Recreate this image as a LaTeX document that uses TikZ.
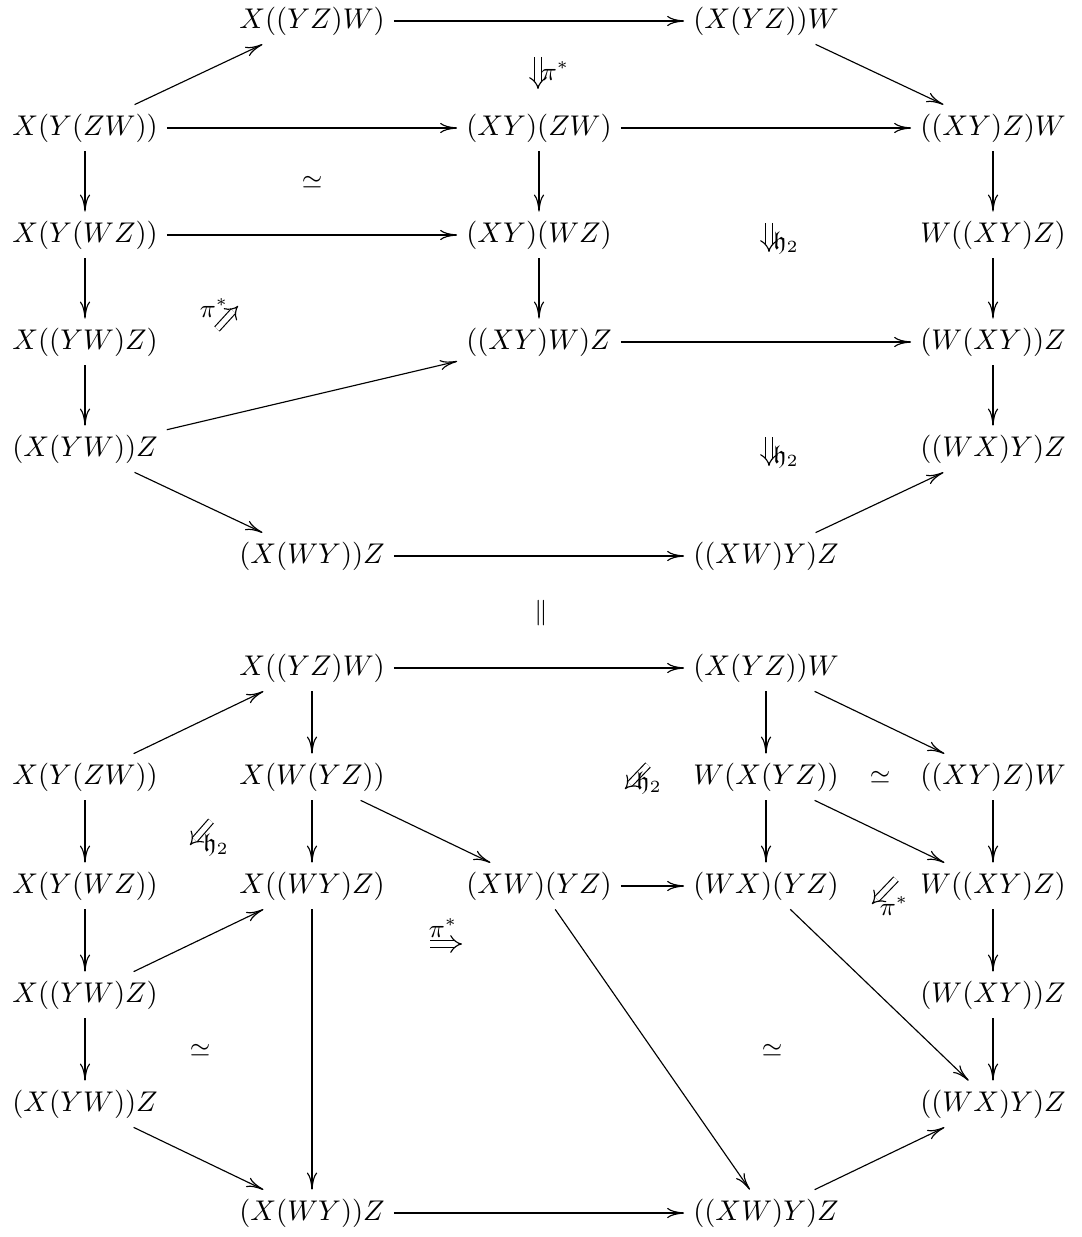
\documentclass[tikz,border=0pt]{standalone}
\usepackage{amssymb}
\usetikzlibrary{arrows.meta}
\tikzset{
  ob/.style={inner sep=3pt},
  ar/.style={line width=0.4pt,-{To[length=6pt,width=3.6pt]}},
  cell/.style={double, double distance=1.8pt, line width=0.4pt, -{Implies}},
  lbl/.style={inner sep=0pt, font=\small},
}
\begin{document}
\begin{tikzpicture}[x=0.351pt,y=-0.351pt]
\useasboundingbox (0,0) rectangle (1081,1237);
% ---------- top diagram ----------
\node[ob] (a1) at (312,21) {$X((YZ)W)$};
\node[ob] (a2) at (766,21) {$(X(YZ))W$};
\node[ob] (b0) at (85,128) {$X(Y(ZW))$};
\node[ob] (b2) at (539,128) {$(XY)(ZW)$};
\node[ob] (b4) at (993,128) {$((XY)Z)W$};
\node[ob] (c0) at (85,235) {$X(Y(WZ))$};
\node[ob] (c2) at (539,235) {$(XY)(WZ)$};
\node[ob] (c4) at (993,235) {$W((XY)Z)$};
\node[ob] (d0) at (85,342) {$X((YW)Z)$};
\node[ob] (d2) at (539,342) {$((XY)W)Z$};
\node[ob] (d4) at (993,342) {$(W(XY))Z$};
\node[ob] (e0) at (85,449) {$(X(YW))Z$};
\node[ob] (e4) at (993,449) {$((WX)Y)Z$};
\node[ob] (f1) at (312,556) {$(X(WY))Z$};
\node[ob] (f3) at (766,556) {$((XW)Y)Z$};

\draw[ar] (b0) -- (a1);
\draw[ar] (a1) -- (a2);
\draw[ar] (a2) -- (b4);
\draw[ar] (b0) -- (b2);
\draw[ar] (b2) -- (b4);
\draw[ar] (b0) -- (c0);
\draw[ar] (b2) -- (c2);
\draw[ar] (b4) -- (c4);
\draw[ar] (c0) -- (c2);
\draw[ar] (c0) -- (d0);
\draw[ar] (c2) -- (d2);
\draw[ar] (c4) -- (d4);
\draw[ar] (d2) -- (d4);
\draw[ar] (d0) -- (e0);
\draw[ar] (e0) -- (d2);
\draw[ar] (d4) -- (e4);
\draw[ar] (e0) -- (f1);
\draw[ar] (f1) -- (f3);
\draw[ar] (f3) -- (e4);

% 2-cells top
\coordinate (t1s) at (538,57);
\coordinate (t1e) at (538,89);
\draw[cell] (t1s) -- (t1e);
\node[lbl] (t1l) at (555,71) {$\pi^*$};
\node[lbl] (t2) at (312,182) {$\simeq$};
\coordinate (t3s) at (769,223);
\coordinate (t3e) at (769,252);
\draw[cell] (t3s) -- (t3e);
\node[lbl] (t3l) at (786,243) {$\mathfrak{h}_2$};
\coordinate (t4s) at (217,329);
\coordinate (t4e) at (238,306);
\draw[cell] (t4s) -- (t4e);
\node[lbl] (t4l) at (214,308) {$\pi^*$};
\coordinate (t5s) at (769,437);
\coordinate (t5e) at (769,466);
\draw[cell] (t5s) -- (t5e);
\node[lbl] (t5l) at (786,457) {$\mathfrak{h}_2$};

\node[lbl] (eq) at (541,613) {$\Vert$};

% ---------- bottom diagram ----------
\node[ob] (g1) at (312,668) {$X((YZ)W)$};
\node[ob] (g3) at (766,668) {$(X(YZ))W$};
\node[ob] (h0) at (85,777) {$X(Y(ZW))$};
\node[ob] (h1) at (312,777) {$X(W(YZ))$};
\node[ob] (h3) at (766,777) {$W(X(YZ))$};
\node[ob] (h4) at (993,777) {$((XY)Z)W$};
\node[ob] (i0) at (85,886) {$X(Y(WZ))$};
\node[ob] (i1) at (312,886) {$X((WY)Z)$};
\node[ob] (i2) at (539,886) {$(XW)(YZ)$};
\node[ob] (i3) at (766,886) {$(WX)(YZ)$};
\node[ob] (i4) at (993,886) {$W((XY)Z)$};
\node[ob] (j0) at (85,995) {$X((YW)Z)$};
\node[ob] (j4) at (993,995) {$(W(XY))Z$};
\node[ob] (k0) at (85,1104) {$(X(YW))Z$};
\node[ob] (k4) at (993,1104) {$((WX)Y)Z$};
\node[ob] (l1) at (312,1213) {$(X(WY))Z$};
\node[ob] (l3) at (766,1213) {$((XW)Y)Z$};

\draw[ar] (h0) -- (g1);
\draw[ar] (g1) -- (g3);
\draw[ar] (g1) -- (h1);
\draw[ar] (g3) -- (h3);
\draw[ar] (g3) -- (h4);
\draw[ar] (h0) -- (i0);
\draw[ar] (h1) -- (i1);
\draw[ar] (h1) -- (i2);
\draw[ar] (h3) -- (i3);
\draw[ar] (h3) -- (i4);
\draw[ar] (h4) -- (i4);
\draw[ar] (i0) -- (j0);
\draw[ar] (j0) -- (i1);
\draw[ar] (i1) -- (l1);
\draw[ar] (i2) -- (i3);
\draw[ar] (i2) -- (l3);
\draw[ar] (i3) -- (k4);
\draw[ar] (i4) -- (j4);
\draw[ar] (j4) -- (k4);
\draw[ar] (j0) -- (k0);
\draw[ar] (k0) -- (l1);
\draw[ar] (l1) -- (l3);
\draw[ar] (l3) -- (k4);

% 2-cells bottom
\coordinate (u1s) at (648,765);
\coordinate (u1e) at (625,789);
\draw[cell] (u1s) -- (u1e);
\node[lbl] (u1l) at (649,783) {$\mathfrak{h}_2$};
\coordinate (u2s) at (211,821);
\coordinate (u2e) at (190,845);
\draw[cell] (u2s) -- (u2e);
\node[lbl] (u2l) at (216,845) {$\mathfrak{h}_2$};
\coordinate (u3s) at (430,944);
\coordinate (u3e) at (462,944);
\draw[cell] (u3s) -- (u3e);
\node[lbl] (u3l) at (443,928) {$\pi^*$};
\coordinate (u4s) at (896,879);
\coordinate (u4e) at (872,904);
\draw[cell] (u4s) -- (u4e);
\node[lbl] (u4l) at (894,906) {$\pi^*$};
\node[lbl] (u5) at (880,777) {$\simeq$};
\node[lbl] (u6) at (200,1050) {$\simeq$};
\node[lbl] (u7) at (772,1050) {$\simeq$};
\end{tikzpicture}
\end{document}
